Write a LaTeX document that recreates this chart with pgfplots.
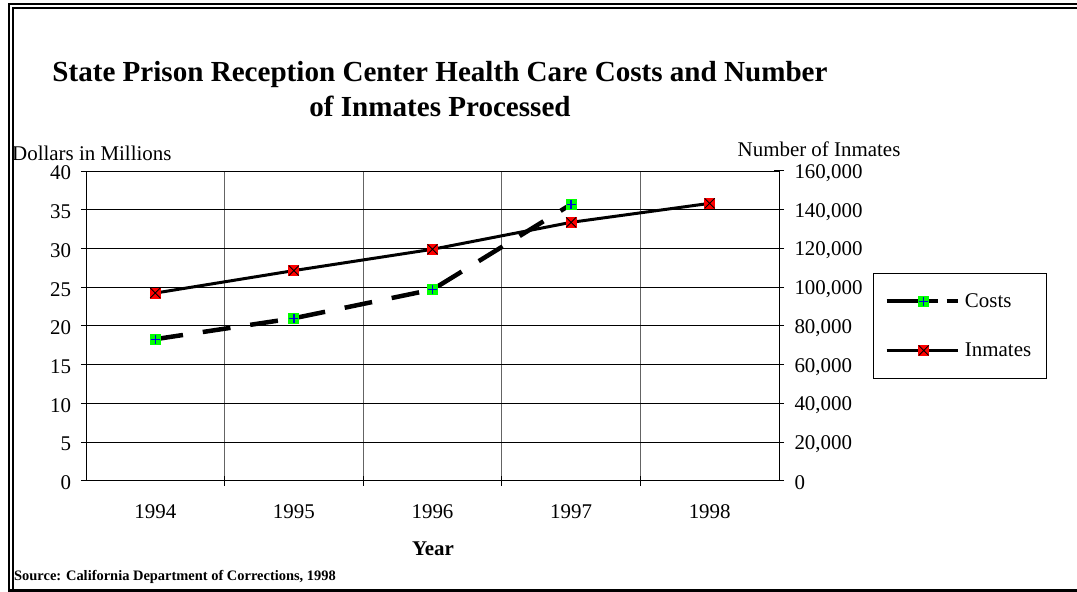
\documentclass[border=0pt]{standalone}
\usepackage{pgfplots}
\pgfplotsset{compat=1.18}
\usepackage{fontspec}
\setmainfont{Liberation Serif}

\definecolor{costgreen}{RGB}{0,255,0}
\definecolor{plusblue}{RGB}{0,0,220}
\definecolor{inmred}{RGB}{255,0,0}
\definecolor{gridgray}{RGB}{100,100,100}

\pgfdeclareplotmark{costmark}{%
  \pgfsetdash{}{0pt}%
  \pgfpathrectangle{\pgfpoint{-5.5bp}{-5.5bp}}{\pgfpoint{11bp}{11bp}}%
  \pgfsetfillcolor{costgreen}\pgfusepath{fill}%
  \pgfsetlinewidth{1.3bp}\pgfsetstrokecolor{plusblue}%
  \pgfpathmoveto{\pgfpoint{-4.5bp}{0bp}}\pgfpathlineto{\pgfpoint{4.5bp}{0bp}}%
  \pgfpathmoveto{\pgfpoint{0bp}{-4.5bp}}\pgfpathlineto{\pgfpoint{0bp}{4.5bp}}%
  \pgfusepath{stroke}}

\pgfdeclareplotmark{inmmark}{%
  \pgfsetdash{}{0pt}%
  \pgfpathrectangle{\pgfpoint{-5.5bp}{-5.5bp}}{\pgfpoint{11bp}{11bp}}%
  \pgfsetfillcolor{inmred}\pgfusepath{fill}%
  \pgfsetlinewidth{0.9bp}\pgfsetstrokecolor{black}%
  \pgfpathmoveto{\pgfpoint{-5bp}{-5bp}}\pgfpathlineto{\pgfpoint{5bp}{5bp}}%
  \pgfpathmoveto{\pgfpoint{-5bp}{5bp}}\pgfpathlineto{\pgfpoint{5bp}{-5bp}}%
  \pgfusepath{stroke}}

\newcommand{\tickfont}{\fontsize{21}{24}\selectfont}

\pgfplotsset{
  costsstyle/.style={black, line width=4.5bp, dash pattern=on 28bp off 20bp, mark=costmark},
  costslegstyle/.style={black, line width=4.5bp, dash pattern=on 51bp off 9bp, mark=costmark},
  inmstyle/.style={black, line width=3bp, mark=inmmark},
  myleg/.style={legend image code/.code={%
      \draw[mark repeat=2,mark phase=2,##1] plot coordinates {(0bp,0bp) (37bp,0bp) (71bp,0bp)};}},
}

\begin{document}
\begin{tikzpicture}
\useasboundingbox (0,0) rectangle (1077bp,592bp);
% frame
\draw[line width=2.2bp] (9bp,0bp) -- (9bp,588bp) -- (1077bp,588bp);
\draw[line width=2bp] (13bp,3bp) -- (13bp,584bp) -- (1077bp,584bp);
\draw[line width=3bp] (9bp,1.5bp) -- (1077bp,1.5bp);

\begin{axis}[
  at={(86bp,111bp)}, anchor=south west,
  scale only axis, width=693bp, height=310bp,
  xmin=-0.5, xmax=4.5, ymin=0, ymax=40,
  xtick={0,1,2,3,4}, xticklabels={1994,1995,1996,1997,1998},
  major x tick style={draw=none},
  minor xtick={0.5,1.5,2.5,3.5},
  xminorgrids, minor x grid style={gridgray, line width=1.3bp},
  minor tick length=10bp,
  xtick pos=bottom,
  ytick={0,5,...,40}, ytick pos=left,
  ymajorgrids, major y grid style={black, line width=1bp},
  tick align=center, major tick length=10bp,
  tick style={black, line width=1bp},
  axis line style={black, line width=1bp},
  tick label style={font=\tickfont},
  /pgf/number format/assume math mode=true,
  yticklabel style={xshift=-6.5bp, yshift=-2bp},
  xticklabel style={anchor=base, yshift=-32bp},
  clip=false,
]
\addplot[costsstyle] coordinates {(0,18.3) (1,21.0) (2,24.7) (3,35.7)};
\end{axis}

\begin{axis}[
  at={(86bp,111bp)}, anchor=south west,
  scale only axis, width=693bp, height=310bp,
  xmin=-0.5, xmax=4.5, ymin=0, ymax=160000,
  axis x line=none, axis y line*=right,
  ytick={0,20000,...,160000}, scaled y ticks=false,
  yticklabel style={/pgf/number format/.cd, fixed, precision=0, 1000 sep={,}, assume math mode=true, /tikz/.cd, font=\tickfont, xshift=7bp, yshift=-2bp},
  tick align=center, major tick length=10bp,
  tick style={black, line width=1bp},
  axis line style={black, line width=1bp},
  myleg,
  legend style={at={(1.1356,0.671)}, anchor=north west, draw=black, line width=1bp,
    font=\tickfont, inner xsep=11bp, inner ysep=20bp, row sep=34bp,
    nodes={inner sep=0pt},
    /tikz/every even column/.append style={column sep=15bp}},
  legend cell align=left,
  clip=false,
]
\addlegendimage{costslegstyle}
\addlegendentry{\hspace*{5bp}Costs}
\addplot[inmstyle] coordinates {(0,97000) (1,108600) (2,119600) (3,133500) (4,143300)};
\addlegendentry{\hspace*{5bp}Inmates\hspace*{4bp}}
\end{axis}

\node[anchor=base, inner sep=0pt, font=\bfseries\fontsize{29.2}{32}\selectfont] at (440bp,510bp) {State Prison Reception Center Health Care Costs and Number};
\node[anchor=base, inner sep=0pt, font=\bfseries\fontsize{29.2}{32}\selectfont] at (440bp,475.5bp) {of Inmates Processed};
\node[anchor=base west, inner sep=0pt, font=\tickfont] at (12bp,431.5bp) {Dollars in Millions};
\node[anchor=base west, inner sep=0pt, font=\tickfont] at (737.5bp,435bp) {Number of Inmates};
\node[anchor=base, inner sep=0pt, font=\bfseries\fontsize{21}{24}\selectfont] at (433bp,37bp) {Year};
\node[anchor=base west, inner sep=0pt, font=\bfseries\fontsize{14.5}{17}\selectfont] at (14bp,11.3bp) {Source: California Department of Corrections, 1998};
\end{tikzpicture}
\end{document}
